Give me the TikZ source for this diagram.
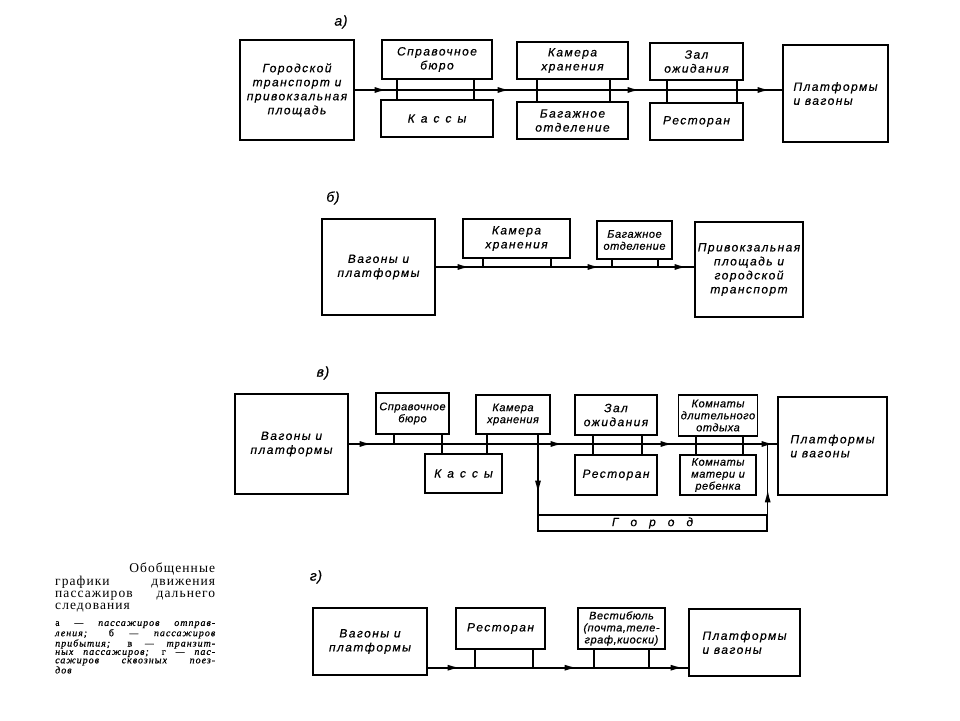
\documentclass[tikz,border=0pt]{standalone}
\usepackage{fontspec}
\setmainfont{Liberation Serif}
\newfontfamily\schemefont[LetterSpace=12, FakeBold=0.5]{Liberation Sans}
\newfontfamily\tightfont[LetterSpace=5, FakeBold=0.5]{Liberation Sans}
\newfontfamily\notefont[LetterSpace=8]{Liberation Serif}
\newfontfamily\legendfont[LetterSpace=10, FakeBold=0.6]{Liberation Serif}
\usetikzlibrary{arrows.meta,decorations.markings}
\tikzset{
  blk_w/.style = {draw, line width=1.4pt, inner sep=1pt, align=center,
    font=\schemefont\itshape\fontsize{12}{14}\selectfont},
  blk_t/.style = {blk_w, font=\tightfont\itshape\fontsize{11}{12}\selectfont},
  flow/.style = {line width=2pt},
  link/.style = {line width=1.4pt},
  arr_at/.style = {postaction={decorate, decoration={markings,
    mark=at position #1 with {\arrow{Latex[length=13pt,width=6pt]}}}}},
  part/.style = {font=\tightfont\itshape\fontsize{14}{16}\selectfont},
  cap_h/.style = {inner sep=0pt, text width=160pt, align=justify,
    font=\notefont\fontsize{13.5}{12.2}\selectfont},
  cap_n/.style = {inner sep=0pt, text width=160pt, align=justify,
    font=\legendfont\itshape\fontsize{10}{8.4}\selectfont}
}

\begin{document}
\begin{tikzpicture}[x=1pt, y=-1pt]
\useasboundingbox (0,0) rectangle (960,720);

\node [part] (la) at (341,22) {а)};
\node [blk_w, minimum width=114pt, minimum height=100pt] (ga) at (297,90) {Городской\\транспорт и\\привокзальная\\площадь};
\node [blk_w, minimum width=110pt, minimum height=39pt] (sa) at (437,59.5) {Справочное\\бюро};
\node [blk_w, minimum width=112pt, minimum height=37pt] (ka) at (437,118.5) {К\enspace а\enspace с\enspace с\enspace ы};
\node [blk_w, minimum width=111pt, minimum height=37pt] (kha) at (572.5,60.5) {Камера\\хранения};
\node [blk_w, minimum width=111pt, minimum height=37pt] (ba) at (572.5,120.5) {Багажное\\отделение};
\node [blk_w, minimum width=93pt, minimum height=37pt] (za) at (696.5,61.5) {Зал\\ожидания};
\node [blk_w, minimum width=93pt, minimum height=37pt] (ra) at (696.5,121.5) {Ресторан};
\node [blk_w, align=left, minimum width=105pt, minimum height=97pt] (pa) at (835.5,93.5) {Платформы\\и вагоны};
\draw [flow, arr_at=33pt, arr_at=156pt, arr_at=286pt, arr_at=416pt] (ga.east) -- (ga.east -| pa.west);
\draw [link] ([xshift=-40pt]sa.south) -- ([xshift=-40pt]ka.north);
\draw [link] ([xshift=37pt]sa.south) -- ([xshift=37pt]ka.north);
\draw [link] ([xshift=-35.5pt]kha.south) -- ([xshift=-35.5pt]ba.north);
\draw [link] ([xshift=37.5pt]kha.south) -- ([xshift=37.5pt]ba.north);
\draw [link] ([xshift=-29.5pt]za.south) -- ([xshift=-29.5pt]ra.north);
\draw [link] ([xshift=40.5pt]za.south) -- ([xshift=40.5pt]ra.north);

\node [part] (lb) at (333,198) {б)};
\node [blk_w, minimum width=113pt, minimum height=96pt] (vb) at (378.5,267) {Вагоны и\\платформы};
\node [blk_w, minimum width=107pt, minimum height=39pt] (kb) at (516.5,238.5) {Камера\\хранения};
\node [blk_t, minimum width=75pt, minimum height=38pt] (bb) at (634.5,240) {Багажное\\отделение};
\node [blk_w, minimum width=108pt, minimum height=95pt] (pb) at (749,269.5) {Привокзальная\\площадь и\\городской\\транспорт};
\draw [flow, arr_at=35pt, arr_at=165pt, arr_at=252pt] (vb.east) -- (vb.east -| pb.west);
\draw [link] ([xshift=-33.5pt]kb.south) -- ([xshift=-33.5pt]kb.south |- vb.east);
\draw [link] ([xshift=34.5pt]kb.south) -- ([xshift=34.5pt]kb.south |- vb.east);
\draw [link] ([xshift=-22.5pt]bb.south) -- ([xshift=-22.5pt]bb.south |- vb.east);
\draw [link] ([xshift=23.5pt]bb.south) -- ([xshift=23.5pt]bb.south |- vb.east);

\node [part] (lc) at (323,373) {в)};
\node [blk_w, minimum width=113pt, minimum height=100pt] (vv) at (291.5,444) {Вагоны и\\платформы};
\node [blk_t, minimum width=73pt, minimum height=41pt] (sv) at (412.5,413.5) {Справочное\\бюро};
\node [blk_w, minimum width=77pt, minimum height=39pt] (kav) at (463.5,473.5) {К\enspace а\enspace с\enspace с\enspace ы};
\node [blk_t, minimum width=74pt, minimum height=39pt] (khv) at (513,414.5) {Камера\\хранения};
\node [blk_w, minimum width=82pt, minimum height=40pt] (zv) at (616,415) {Зал\\ожидания};
\node [blk_w, minimum width=82pt, minimum height=40pt] (rv) at (616,475) {Ресторан};
\node [blk_t, minimum width=79pt, minimum height=41pt] (dv) at (718,415.5) {Комнаты\\длительного\\отдыха};
\node [blk_t, minimum width=76pt, minimum height=40pt] (mv) at (718,475) {Комнаты\\матери и\\ребенка};
\node [blk_w, align=left, minimum width=109pt, minimum height=98pt] (pv) at (832.5,446) {Платформы\\и вагоны};
\node [blk_w, inner sep=0pt, minimum width=229pt, minimum height=16pt] (gv) at (652.5,523) {Г\quad о\quad р\quad о\quad д};
\draw [flow, arr_at=24pt, arr_at=215pt, arr_at=325pt, arr_at=426pt] (vv.east) -- (vv.east -| pv.west);
\draw [link] ([xshift=-18.5pt]sv.south) -- ([xshift=-18.5pt]sv.south |- vv.east);
\draw [link] ([xshift=29.5pt]sv.south) -- ([xshift=29.5pt]sv.south |- kav.north);
\draw [link] ([xshift=-26pt]khv.south) -- ([xshift=-26pt]khv.south |- kav.north);
\draw [link, arr_at=59pt] ([xshift=25pt]khv.south) -- ([xshift=25pt]khv.south |- gv.south);
\draw [link, arr_at=25pt] (gv.north east) -- (gv.north east |- vv.east);
\draw [link] ([xshift=-23pt]zv.south) -- ([xshift=-23pt]rv.north);
\draw [link] ([xshift=26pt]zv.south) -- ([xshift=26pt]rv.north);
\draw [link] ([xshift=-22pt]dv.south) -- ([xshift=-22pt]mv.north);
\draw [link] ([xshift=25pt]dv.south) -- ([xshift=25pt]mv.north);

\node [part] (ld) at (316,577) {г)};
\node [blk_w, minimum width=114pt, minimum height=67pt] (vg) at (370,641.5) {Вагоны и\\платформы};
\node [blk_w, minimum width=89pt, minimum height=41pt] (rg) at (500.5,628.5) {Ресторан};
\node [blk_t, minimum width=87pt, minimum height=41pt] (vsg) at (621.5,628.5) {Вестибюль\\(почта,теле-\\граф,киоски)};
\node [blk_w, align=left, minimum width=111pt, minimum height=67pt] (pg) at (744.5,642.5) {Платформы\\и вагоны};
\coordinate (fg) at ([yshift=8pt]vg.south east);
\draw [flow, arr_at=33pt, arr_at=150pt, arr_at=256pt] (fg) -- (fg -| pg.west);
\draw [link] ([xshift=-25.5pt]rg.south) -- ([xshift=-25.5pt]rg.south |- fg);
\draw [link] ([xshift=32.5pt]rg.south) -- ([xshift=32.5pt]rg.south |- fg);
\draw [link] ([xshift=-27.5pt]vsg.south) -- ([xshift=-27.5pt]vsg.south |- fg);
\draw [link] ([xshift=27.5pt]vsg.south) -- ([xshift=27.5pt]vsg.south |- fg);

\node [cap_h, anchor=north west] (ch) at (55,563) {\mbox{}\hfill Обобщенные\linebreak графики движения\linebreak пассажиров дальнего\linebreak следования};
\node [cap_n, anchor=north west] (cn) at (55,621) {{\upshape а} — пассажиров отправ-\linebreak ления; {\upshape б} — пассажиров\linebreak прибытия; {\upshape в} — транзит-\linebreak ных пассажиров; {\upshape г} — пас-\linebreak сажиров сквозных поез-\linebreak дов};
\end{tikzpicture}
\end{document}
